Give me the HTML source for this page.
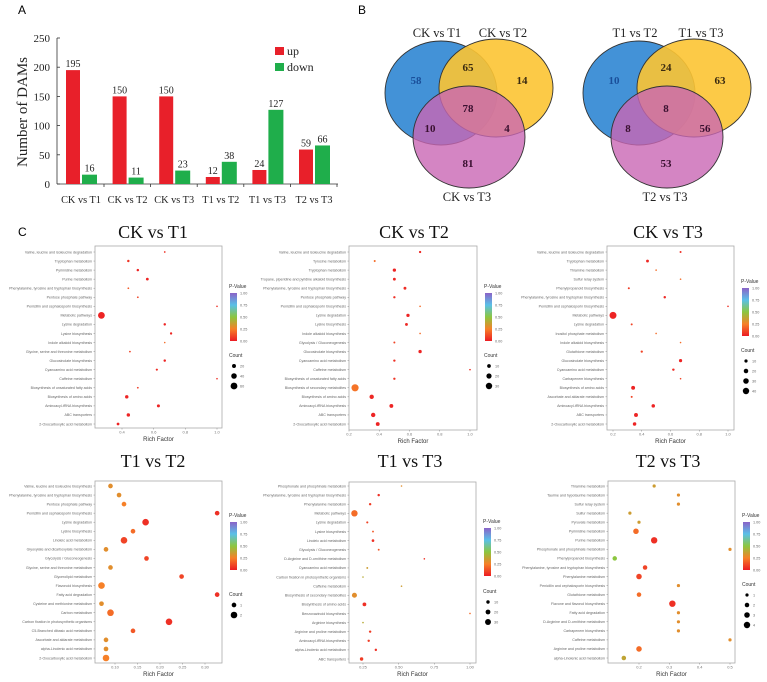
<!DOCTYPE html>
<html><head><meta charset="utf-8"><style>
html,body{margin:0;padding:0;background:#fff}
svg{display:block}
.serif{font-family:"Liberation Serif",serif}
.sans{font-family:"Liberation Sans",sans-serif}
</style></head><body>
<svg id="fig" width="767" height="682" viewBox="0 0 767 682" xmlns="http://www.w3.org/2000/svg">
<text x="18" y="14" class="sans" font-size="12">A</text>
<text x="358" y="14" class="sans" font-size="12">B</text>
<text x="18" y="236" class="sans" font-size="12">C</text>
<g id="bars"></g>
<g id="venn"></g>
<g id="bubbles"></g>
</svg>
<script>
const NS="http://www.w3.org/2000/svg";
// ---------- Bar chart data ----------
const barCategories=["CK vs T1","CK vs T2","CK vs T3","T1 vs T2","T1 vs T3","T2 vs T3"];
const upValues=[195,150,150,12,24,59];
const downValues=[16,11,23,38,127,66];
const barTicks=[0,50,100,150,200,250];
// ---------- Venn data ----------
const venn1Labels=["CK vs T1","CK vs T2","CK vs T3"];
const venn1Counts=[58,65,14,78,10,4,81];
const venn2Labels=["T1 vs T2","T1 vs T3","T2 vs T3"];
const venn2Counts=[10,24,63,8,8,56,53];
// ---------- Bubble data ----------
const p1Terms=["Valine, leucine and isoleucine degradation","Tryptophan metabolism","Pyrimidine metabolism","Purine metabolism","Phenylalanine, tyrosine and tryptophan biosynthesis","Pentose phosphate pathway","Penicillin and cephalosporin biosynthesis","Metabolic pathways","Lysine degradation","Lysine biosynthesis","Indole alkaloid biosynthesis","Glycine, serine and threonine metabolism","Glucosinolate biosynthesis","Cyanoamino acid metabolism","Caffeine metabolism","Biosynthesis of unsaturated fatty acids","Biosynthesis of amino acids","Aminoacyl-tRNA biosynthesis","ABC transporters","2-Oxocarboxylic acid metabolism"];
const p1Rich=[0.67,0.44,0.50,0.56,0.44,0.50,1.0,0.27,0.67,0.71,0.67,0.45,0.67,0.62,1.0,0.50,0.43,0.63,0.44,0.375];
const p1Count=[4,8,8,10,4,4,3,60,8,7,2,4,8,6,2,4,15,12,15,10];
const p1P=[0.05,0.06,0.02,0.02,0.15,0.1,0.05,0.02,0.02,0.03,0.2,0.1,0.02,0.04,0.05,0.08,0.02,0.02,0.02,0.02];
const p2Terms=["Valine, leucine and isoleucine degradation","Tyrosine metabolism","Tryptophan metabolism","Tropane, piperidine and pyridine alkaloid biosynthesis","Phenylalanine, tyrosine and tryptophan biosynthesis","Pentose phosphate pathway","Penicillin and cephalosporin biosynthesis","Lysine degradation","Lysine biosynthesis","Indole alkaloid biosynthesis","Glycolysis / Gluconeogenesis","Glucosinolate biosynthesis","Cyanoamino acid metabolism","Caffeine metabolism","Biosynthesis of unsaturated fatty acids","Biosynthesis of secondary metabolites","Biosynthesis of amino acids","Aminoacyl-tRNA biosynthesis","ABC transporters","2-Oxocarboxylic acid metabolism"];
const p2Rich=[0.67,0.37,0.5,0.5,0.57,0.5,0.67,0.59,0.58,0.67,0.5,0.67,0.5,1.0,0.5,0.24,0.35,0.48,0.36,0.39];
const p2Count=[4,3,8,6,6,4,2,8,6,2,3,8,4,2,4,38,14,11,14,11];
const p2P=[0.03,0.2,0.02,0.03,0.04,0.05,0.2,0.02,0.03,0.2,0.1,0.02,0.05,0.05,0.06,0.22,0.03,0.02,0.02,0.02];
const p3Terms=["Valine, leucine and isoleucine degradation","Tryptophan metabolism","Thiamine metabolism","Sulfur relay system","Phenylpropanoid biosynthesis","Phenylalanine, tyrosine and tryptophan biosynthesis","Penicillin and cephalosporin biosynthesis","Metabolic pathways","Lysine degradation","Inositol phosphate metabolism","Indole alkaloid biosynthesis","Glutathione metabolism","Glucosinolate biosynthesis","Cyanoamino acid metabolism","Carbapenem biosynthesis","Biosynthesis of amino acids","Ascorbate and aldarate metabolism","Aminoacyl-tRNA biosynthesis","ABC transporters","2-Oxocarboxylic acid metabolism"];
const p3Rich=[0.67,0.44,0.5,0.67,0.31,0.56,1.0,0.2,0.33,0.5,0.67,0.4,0.67,0.62,0.67,0.34,0.33,0.48,0.36,0.35];
const p3Count=[4,8,1,1,4,6,2,48,4,1,1,5,10,6,2,15,4,12,15,12];
const p3P=[0.05,0.03,0.2,0.2,0.08,0.03,0.05,0.02,0.1,0.2,0.2,0.1,0.02,0.04,0.1,0.02,0.1,0.02,0.02,0.02];
const b1Terms=["Valine, leucine and isoleucine biosynthesis","Phenylalanine, tyrosine and tryptophan biosynthesis","Pentose phosphate pathway","Penicillin and cephalosporin biosynthesis","Lysine degradation","Lysine biosynthesis","Linoleic acid metabolism","Glyoxylate and dicarboxylate metabolism","Glycolysis / Gluconeogenesis","Glycine, serine and threonine metabolism","Glycerolipid metabolism","Flavonoid biosynthesis","Fatty acid degradation","Cysteine and methionine metabolism","Carbon metabolism","Carbon fixation in photosynthetic organisms","C5-Branched dibasic acid metabolism","Ascorbate and aldarate metabolism","alpha-Linolenic acid metabolism","2-Oxocarboxylic acid metabolism"];
const b1Rich=[0.09,0.109,0.12,0.327,0.168,0.14,0.12,0.08,0.17,0.09,0.248,0.07,0.327,0.07,0.09,0.22,0.14,0.08,0.08,0.08];
const b1Count=[1,1,1,1,2,1,2,1,1,1,1,2,1,1,2,2,1,1,1,2];
const b1P=[0.3,0.3,0.25,0.05,0.05,0.2,0.1,0.3,0.1,0.3,0.1,0.25,0.05,0.3,0.2,0.05,0.15,0.3,0.3,0.25];
const b2Terms=["Phosphonate and phosphinate metabolism","Phenylalanine, tyrosine and tryptophan biosynthesis","Phenylalanine metabolism","Metabolic pathways","Lysine degradation","Lysine biosynthesis","Linoleic acid metabolism","Glycolysis / Gluconeogenesis","D-Arginine and D-ornithine metabolism","Cyanoamino acid metabolism","Carbon fixation in photosynthetic organisms","Caffeine metabolism","Biosynthesis of secondary metabolites","Biosynthesis of amino acids","Benzoxazinoid biosynthesis","Arginine biosynthesis","Arginine and proline metabolism","Aminoacyl-tRNA biosynthesis","alpha-Linolenic acid metabolism","ABC transporters"];
const b2Rich=[0.52,0.36,0.3,0.19,0.28,0.32,0.32,0.36,0.68,0.28,0.25,0.52,0.19,0.26,1.0,0.25,0.3,0.29,0.34,0.24];
const b2Count=[1,5,5,35,4,3,6,3,2,3,2,1,22,12,1,2,5,5,5,10];
const b2P=[0.3,0.05,0.08,0.2,0.1,0.15,0.05,0.15,0.05,0.35,0.4,0.35,0.3,0.05,0.2,0.4,0.08,0.08,0.05,0.08];
const b3Terms=["Thiamine metabolism","Taurine and hypotaurine metabolism","Sulfur relay system","Sulfur metabolism","Pyruvate metabolism","Pyrimidine metabolism","Purine metabolism","Phosphonate and phosphinate metabolism","Phenylpropanoid biosynthesis","Phenylalanine, tyrosine and tryptophan biosynthesis","Phenylalanine metabolism","Penicillin and cephalosporin biosynthesis","Glutathione metabolism","Flavone and flavonol biosynthesis","Fatty acid degradation","D-Arginine and D-ornithine metabolism","Carbapenem biosynthesis","Caffeine metabolism","Arginine and proline metabolism","alpha-Linolenic acid metabolism"];
const b3Rich=[0.25,0.33,0.33,0.17,0.2,0.19,0.25,0.5,0.12,0.22,0.2,0.33,0.2,0.31,0.33,0.33,0.33,0.5,0.2,0.15];
const b3Count=[1,1,1,1,1,3,4,1,2,2,3,1,2,4,1,1,1,1,3,2];
const b3P=[0.35,0.3,0.3,0.35,0.35,0.2,0.05,0.3,0.5,0.1,0.1,0.3,0.2,0.05,0.3,0.3,0.3,0.3,0.2,0.38];
const p1Ticks=[0.4,0.6,0.8,1.0], p2Ticks=[0.2,0.4,0.6,0.8,1.0], p3Ticks=[0.2,0.4,0.6,0.8,1.0];
const b1Ticks=[0.10,0.15,0.20,0.25,0.30], b2Ticks=[0.25,0.50,0.75,1.00], b3Ticks=[0.2,0.3,0.4,0.5];
const p1Legend=[20,40,60], p2Legend=[10,20,30], p3Legend=[10,20,30,40];
const b1Legend=[1,2], b2Legend=[10,20,30], b3Legend=[1,2,3,4];

function mk(tag,attrs,parent,text){const e=document.createElementNS(NS,tag);for(const k in attrs)e.setAttribute(k,attrs[k]);if(text!==undefined)e.textContent=text;parent.appendChild(e);return e;}

// ---------- Bars ----------
(function(){
const g=document.getElementById('bars');
const y=v=>184-v*146/250, x0=i=>66+i*46.6;
mk('line',{x1:57,y1:38,x2:57,y2:184,stroke:'#333','stroke-width':0.8},g);
mk('line',{x1:57,y1:184,x2:338,y2:184,stroke:'#333','stroke-width':0.8},g);
barTicks.forEach(t=>{
  mk('line',{x1:57,y1:y(t),x2:60,y2:y(t),stroke:'#333','stroke-width':0.8},g);
  const tl=mk('text',{x:50,y:y(t)+4,'text-anchor':'end','font-size':11,class:'serif',fill:'#222'},g,t);
  
  
});
barCategories.forEach((c,i)=>{
  const r=mk('rect',{x:x0(i),y:y(upValues[i]),width:14,height:184-y(upValues[i]),fill:'#e8202a'},g);
  
  
  const d=mk('rect',{x:x0(i)+16,y:y(downValues[i]),width:15,height:184-y(downValues[i]),fill:'#1fae4b'},g);
  
  
  mk('text',{x:x0(i)+7,y:y(upValues[i])-3,'text-anchor':'middle','font-size':10,class:'serif',fill:'#222'},g,upValues[i]);
  mk('text',{x:x0(i)+23.5,y:y(downValues[i])-3,'text-anchor':'middle','font-size':10,class:'serif',fill:'#222'},g,downValues[i]);
  const cl=mk('text',{x:x0(i)+15,y:203,'text-anchor':'middle','font-size':10.3,class:'serif',fill:'#222'},g,c);
  
  
  mk('line',{x1:x0(i)+38,y1:184,x2:x0(i)+38,y2:187,stroke:'#333','stroke-width':0.8},g);
});
const t=mk('text',{x:0,y:0,transform:'translate(27,112) rotate(-90)','text-anchor':'middle','font-size':15,class:'serif',fill:'#222'},g,'Number of DAMs');


mk('rect',{x:275,y:47,width:9,height:8,fill:'#e8202a'},g);
mk('text',{x:287,y:55,'font-size':12,class:'serif',fill:'#222'},g,'up');
mk('rect',{x:275,y:63,width:9,height:8,fill:'#1fae4b'},g);
mk('text',{x:287,y:71,'font-size':12,class:'serif',fill:'#222'},g,'down');
})();

// ---------- Venn ----------
function venn(ox,labels,counts,nm){
  const g=mk('g',{},document.getElementById('venn'));
  
  
  const cs=[[441,93,56,52,'#2f86d3'],[496,88,57,49,'#fcc433'],[469,137,56,51,'#c966b4']];
  cs.forEach((c,i)=>{const e=mk('ellipse',{cx:c[0]+ox,cy:c[1],rx:c[2],ry:c[3],fill:c[4],'fill-opacity':i==2?0.8:0.9,stroke:'#333','stroke-width':0.9},g);});
  [[437,37],[503,37],[467,201]].forEach((p,i)=>{mk('text',{x:p[0]+ox,y:p[1],'text-anchor':'middle','font-size':12.5,class:'serif',fill:'#222'},g,labels[i]);});
  const pos=[[416,84,'#1a4f9a'],[468,71,'#3a2a10'],[522,84,'#3a2a10'],[468,112,'#3a1030'],[430,132,'#3a1030'],[507,132,'#3a1030'],[468,167,'#3a1030']];
  pos.forEach((p,i)=>{mk('text',{x:p[0]+ox,y:p[1],'text-anchor':'middle','font-size':11,'font-weight':'bold',class:'serif',fill:p[2]},g,counts[i]);});
}
venn(0,venn1Labels,venn1Counts,'venn-ck');
venn(198,venn2Labels,venn2Counts,'venn-treatments');

// ---------- Bubbles ----------
function pcol(p){
  const stops=[[0,[236,28,36]],[0.25,[246,128,40]],[0.5,[140,198,63]],[0.75,[90,192,232]],[1,[138,99,200]]];
  for(let i=0;i<stops.length-1;i++){const a=stops[i],b=stops[i+1];if(p<=b[0]){const t=(p-a[0])/(b[0]-a[0]);return 'rgb('+a[1].map((v,k)=>Math.round(v+(b[1][k]-v)*t)).join(',')+')';}}
  return 'rgb(138,99,200)';
}
function panel(cfg,terms,rich,count,pv,ticks,legend){
  const g=mk('g',{},document.getElementById('bubbles'));
  
  
  const X=v=>cfg.xa+(v-cfg.va)*(cfg.xb-cfg.xa)/(cfg.vb-cfg.va);
  const n=terms.length, Y=i=>cfg.r0+i*(cfg.r1-cfg.r0)/(n-1);
  const maxC=cfg.maxC, R=c=>Math.max(0.8,cfg.rmax*Math.sqrt(c/maxC));
  const tt=mk('text',{x:cfg.tx,y:cfg.ty,'text-anchor':'middle','font-size':18,class:'serif',fill:'#111'},g,cfg.title);
  
  
  mk('rect',{x:cfg.L,y:cfg.T,width:cfg.R-cfg.L,height:cfg.B-cfg.T,fill:'#fff',stroke:'#aaa','stroke-width':0.8},g);
  terms.forEach((t,i)=>{
    const l=mk('text',{x:cfg.L-3,y:Y(i)+1.3,'text-anchor':'end','font-size':3.6,class:'sans',fill:'#666'},g,t);
    
    
    mk('line',{x1:cfg.L-1.5,y1:Y(i),x2:cfg.L,y2:Y(i),stroke:'#888','stroke-width':0.5},g);
  });
  ticks.forEach(t=>{
    mk('line',{x1:X(t),y1:cfg.B,x2:X(t),y2:cfg.B+1.5,stroke:'#888','stroke-width':0.5},g);
    const tl=mk('text',{x:X(t),y:cfg.B+5.5,'text-anchor':'middle','font-size':4,class:'sans',fill:'#777'},g,cfg.fmt(t));
    
    
  });
  mk('text',{x:(cfg.L+cfg.R)/2,y:cfg.B+13,'text-anchor':'middle','font-size':6,class:'sans',fill:'#333'},g,'Rich Factor');
  terms.forEach((t,i)=>{
    const c=mk('circle',{cx:X(rich[i]),cy:Y(i),r:R(count[i]),fill:pcol(pv[i])},g);
    
    
  });
  const cx=cfg.R+8, cy=cfg.cb;
  mk('text',{x:cx-1,y:cy-5,'font-size':5,class:'sans',fill:'#333'},g,'P-Value');
  const gid='grad'+cfg.name;
  const defs=mk('defs',{},g);const lg=mk('linearGradient',{id:gid,x1:0,y1:1,x2:0,y2:0},defs);
  [0,0.25,0.5,0.75,1].forEach(s=>mk('stop',{offset:s,'stop-color':pcol(s)},lg));
  mk('rect',{x:cx,y:cy,width:7,height:48,fill:'url(#'+gid+')'},g);
  ['1.00','0.75','0.50','0.25','0.00'].forEach((s,k)=>mk('text',{x:cx+10,y:cy+1.5+k*12,'font-size':3.8,class:'sans',fill:'#666'},g,s));
  mk('text',{x:cx-1,y:cfg.cl,'font-size':5,class:'sans',fill:'#333'},g,'Count');
  legend.forEach((v,k)=>{
    const yy=cfg.cl+9+k*10;
    mk('circle',{cx:cx+4,cy:yy,r:R(v),fill:'#000'},g);
    mk('text',{x:cx+10,y:yy+1.5,'font-size':3.8,class:'sans',fill:'#666'},g,v);
  });
}
const f1=v=>v.toFixed(1), f2=v=>v.toFixed(2);
panel({name:'bubble-ck-t1',title:'CK vs T1',tx:153,ty:238,L:95,R:222,T:246,B:428,r0:252,r1:424,xa:122,xb:217,va:0.4,vb:1.0,maxC:60,rmax:3.4,cb:293,cl:357,fmt:f1},p1Terms,p1Rich,p1Count,p1P,p1Ticks,p1Legend);
panel({name:'bubble-ck-t2',title:'CK vs T2',tx:414,ty:238,L:349,R:477,T:246,B:430,r0:252,r1:424,xa:349,xb:470,va:0.2,vb:1.0,maxC:38,rmax:3.6,cb:293,cl:357,fmt:f1},p2Terms,p2Rich,p2Count,p2P,p2Ticks,p2Legend);
panel({name:'bubble-ck-t3',title:'CK vs T3',tx:668,ty:238,L:607,R:734,T:246,B:430,r0:252,r1:424,xa:613,xb:728,va:0.2,vb:1.0,maxC:48,rmax:3.5,cb:288,cl:352,fmt:f1},p3Terms,p3Rich,p3Count,p3P,p3Ticks,p3Legend);
panel({name:'bubble-t1-t2',title:'T1 vs T2',tx:153,ty:467,L:95,R:222,T:481,B:663,r0:486,r1:658,xa:115,xb:205,va:0.10,vb:0.30,maxC:2,rmax:3.3,cb:522,cl:596,fmt:f2},b1Terms,b1Rich,b1Count,b1P,b1Ticks,b1Legend);
panel({name:'bubble-t1-t3',title:'T1 vs T3',tx:410,ty:467,L:349,R:476,T:482,B:663,r0:486,r1:659,xa:363,xb:470,va:0.25,vb:1.0,maxC:35,rmax:3.2,cb:528,cl:593,fmt:f2},b2Terms,b2Rich,b2Count,b2P,b2Ticks,b2Legend);
panel({name:'bubble-t2-t3',title:'T2 vs T3',tx:668,ty:467,L:608,R:735,T:481,B:663,r0:486,r1:658,xa:639,xb:730,va:0.2,vb:0.5,maxC:4,rmax:3.2,cb:522,cl:586,fmt:f1},b3Terms,b3Rich,b3Count,b3P,b3Ticks,b3Legend);
</script>
</body></html>
